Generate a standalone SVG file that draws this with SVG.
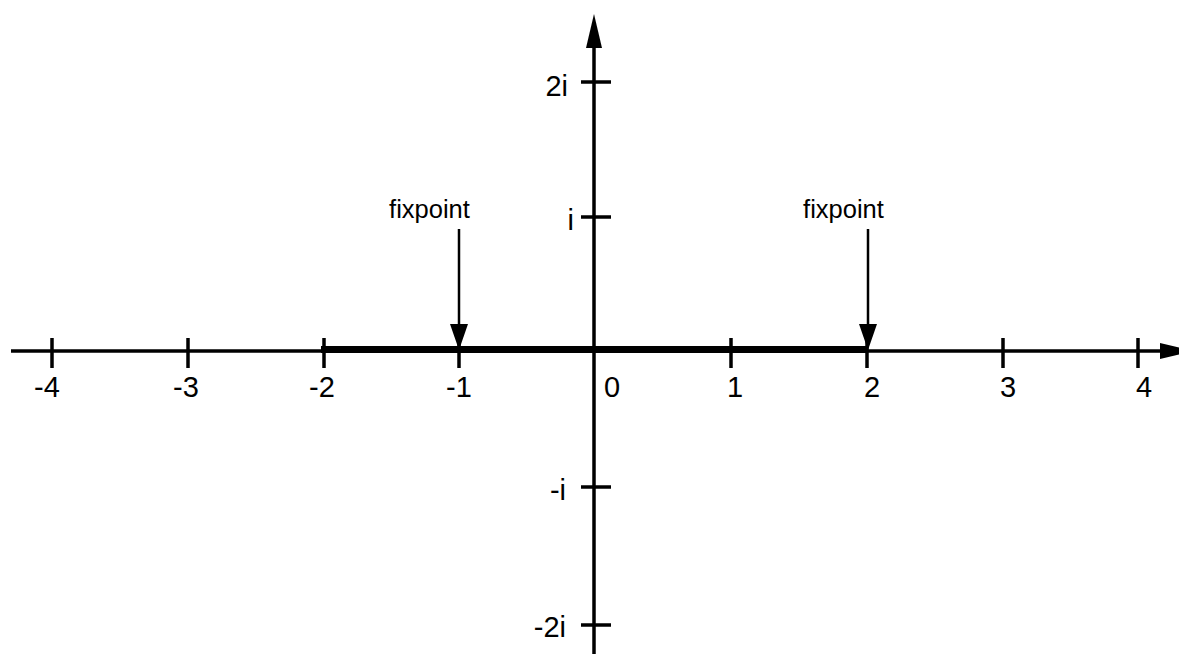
<svg xmlns="http://www.w3.org/2000/svg" width="1179" height="654" viewBox="0 0 1179 654">
  <style>
    .axis { stroke: #000; stroke-width: 3.5; fill: none; }
    .tick { stroke: #000; stroke-width: 3.5; fill: none; }
    .thick { stroke: #000; stroke-width: 7; fill: none; }
    .ptr { stroke: #000; stroke-width: 2.5; fill: none; }
    .head { fill: #000; stroke: none; }
    .lbl { font-family: "Liberation Sans", Arial, sans-serif; font-size: 29px; fill: #000; }
    .fx { font-family: "Liberation Sans", Arial, sans-serif; font-size: 25.5px; fill: #000; }
  </style>
  <defs>
    <marker id="fxhead" markerUnits="userSpaceOnUse" markerWidth="26" markerHeight="18" viewBox="0 0 26 18" refX="16" refY="9" orient="auto">
      <path d="M0,0 L26,9 L0,18 Z" class="head"/>
    </marker>
  </defs>
  <rect width="1179" height="654" fill="#fff"/>

  <g id="axes">
    <line class="axis" x1="11" y1="351" x2="1165" y2="351"/>
    <polygon class="head" points="1160,343 1194,351 1160,359"/>
    <line class="axis" x1="594" y1="654" x2="594" y2="44"/>
    <polygon class="head" points="586,48 594,14 602,48"/>
  </g>

  <g id="x-ticks">
    <line class="tick" x1="52" y1="338" x2="52" y2="368"/>
    <line class="tick" x1="188" y1="338" x2="188" y2="368"/>
    <line class="tick" x1="324" y1="338" x2="324" y2="368"/>
    <line class="tick" x1="459" y1="338" x2="459" y2="368"/>
    <line class="tick" x1="731" y1="338" x2="731" y2="368"/>
    <line class="tick" x1="867" y1="338" x2="867" y2="368"/>
    <line class="tick" x1="1003" y1="338" x2="1003" y2="368"/>
    <line class="tick" x1="1138" y1="338" x2="1138" y2="368"/>
  </g>

  <g id="y-ticks">
    <line class="tick" x1="581" y1="82" x2="611" y2="82"/>
    <line class="tick" x1="581" y1="217" x2="611" y2="217"/>
    <line class="tick" x1="581" y1="487" x2="611" y2="487"/>
    <line class="tick" x1="581" y1="625" x2="611" y2="625"/>
  </g>

  <g id="interval">
    <line class="thick" x1="321" y1="349.5" x2="868" y2="349.5"/>
  </g>

  <g id="x-labels" class="lbl" text-anchor="middle">
    <text x="47" y="397">-4</text>
    <text x="186" y="397">-3</text>
    <text x="322" y="397">-2</text>
    <text x="459" y="397">-1</text>
    <text x="612" y="397">0</text>
    <text x="735" y="397">1</text>
    <text x="872" y="397">2</text>
    <text x="1008" y="397">3</text>
    <text x="1144" y="397">4</text>
  </g>

  <g id="y-labels" class="lbl" text-anchor="end">
    <text x="568" y="96">2i</text>
    <text x="574" y="230">i</text>
    <text x="566" y="500">-i</text>
    <text x="566" y="637">-2i</text>
  </g>

  <g id="fixpoint-left">
    <text class="fx" x="429.5" y="218" text-anchor="middle">fixpoint</text>
  </g>
  <g id="fixpoint-right">
    <text class="fx" x="843.5" y="218" text-anchor="middle">fixpoint</text>
  </g>

  <g id="connectors">
    <line class="ptr" x1="459" y1="229" x2="459" y2="340" marker-end="url(#fxhead)"/>
    <line class="ptr" x1="868" y1="229" x2="868" y2="340" marker-end="url(#fxhead)"/>
  </g>
</svg>
